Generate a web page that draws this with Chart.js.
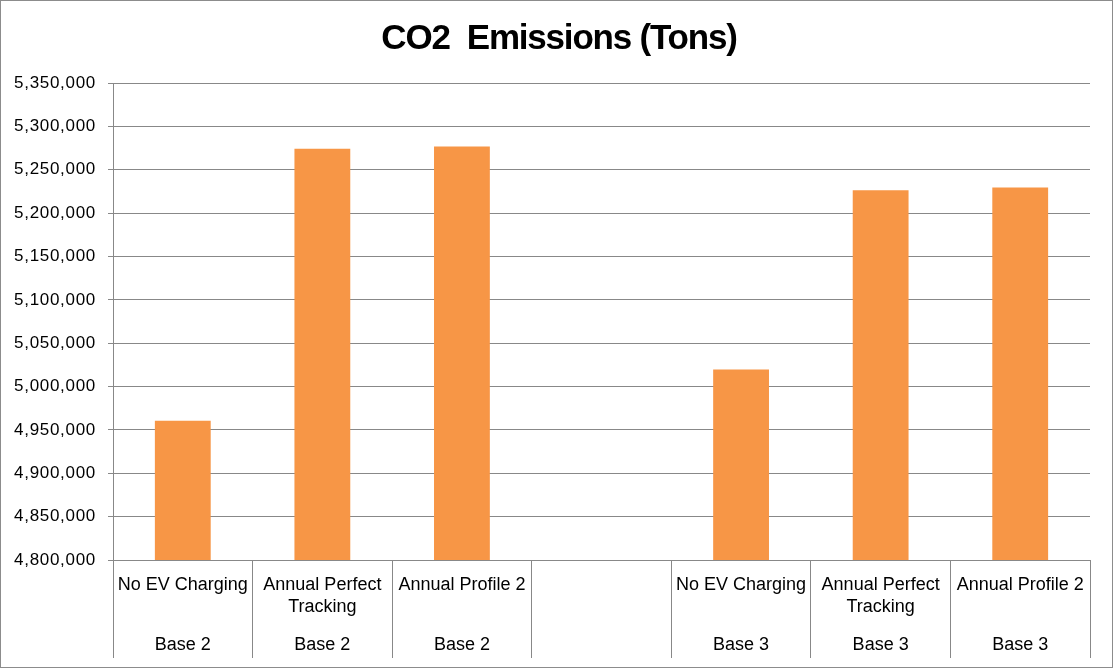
<!DOCTYPE html>
<html>
<head>
<meta charset="utf-8">
<script src="https://cdn.jsdelivr.net/npm/chart.js@4/dist/chart.umd.min.js"></script>
<style>
  html, body { margin: 0; padding: 0; background: #fff; }
  #frame {
    position: absolute; left: 0; top: 0;
    width: 1113px; height: 668px;
    box-sizing: border-box;
    border: 1px solid #8c8c8c;
    background: #fff;
  }
  canvas { display: block; }
</style>
</head>
<body>
<div id="frame"><canvas id="chart" width="1111" height="666"></canvas></div>
<script>
// Scenario names (first label row) and case groups (second label row)
const scenarios = [
  'No EV Charging',
  ['Annual Perfect', 'Tracking'],
  'Annual Profile 2',
  '',
  'No EV Charging',
  ['Annual Perfect', 'Tracking'],
  'Annual Profile 2'
];
const groups = ['Base 2', 'Base 2', 'Base 2', '', 'Base 3', 'Base 3', 'Base 3'];

// CO2 emissions in tons; the empty slot separates the two cases
const emissions = [4960700, 5274200, 5276900, null, 5019600, 5226200, 5229600];

// Value axis range
const yMin = 4800000;
const yMax = 5350000;
const yStep = 50000;

const FONT = '"Liberation Sans", Arial, Helvetica, sans-serif';
const GRID = '#888888';

// Draws a text layer with a given letter spacing
function withSpacing(obj, method, spacing) {
  if (!obj || obj['__spaced_' + method]) return;
  const orig = obj[method].bind(obj);
  obj[method] = function (...args) {
    const ctx = obj.ctx;
    const prev = ctx.letterSpacing;
    ctx.letterSpacing = spacing;
    orig(...args);
    ctx.letterSpacing = prev;
  };
  obj['__spaced_' + method] = true;
}

const spacingPlugin = {
  id: 'letterSpacing',
  afterLayout(chart) {
    withSpacing(chart.titleBlock, 'draw', '-1.2px');
    withSpacing(chart.scales.y, 'drawLabels', '0.7px');
  }
};

new Chart(document.getElementById('chart'), {
  type: 'bar',
  data: {
    labels: scenarios,
    datasets: [{
      data: emissions,
      backgroundColor: '#F79646',
      borderWidth: 0,
      categoryPercentage: 1.0,
      barPercentage: 0.4,
      yAxisID: 'y'
    }]
  },
  plugins: [spacingPlugin],
  options: {
    responsive: false,
    animation: false,
    devicePixelRatio: 1,
    layout: { padding: { left: 5, right: 0, top: 0, bottom: 0 } },
    plugins: {
      legend: { display: false },
      tooltip: { enabled: false },
      title: {
        display: true,
        text: 'CO2  Emissions (Tons)',
        color: '#000',
        font: { family: FONT, size: 35, weight: 'bold', lineHeight: 1.2 },
        padding: { top: 17.5, bottom: 22.5 }
      }
    },
    scales: {
      x: {
        type: 'category',
        position: 'bottom',
        offset: true,
        grid: {
          offset: true,
          drawOnChartArea: false,
          drawTicks: true,
          tickLength: 62,
          color: GRID
        },
        border: { display: true, color: GRID },
        ticks: {
          color: '#000',
          font: { family: FONT, size: 18, lineHeight: '22px' },
          padding: -48,
          maxRotation: 0,
          minRotation: 0,
          autoSkip: false
        },
        afterFit: (s) => { s.height = 62; }
      },
      x2: {
        type: 'category',
        position: 'bottom',
        labels: groups,
        offset: true,
        grid: {
          offset: true,
          drawOnChartArea: false,
          drawTicks: true,
          tickLength: 36,
          color: GRID
        },
        border: { display: false },
        ticks: {
          color: '#000',
          font: { family: FONT, size: 18, lineHeight: '22px' },
          padding: -24,
          maxRotation: 0,
          minRotation: 0,
          autoSkip: false
        },
        afterFit: (s) => { s.height = 45; }
      },
      y: {
        min: yMin,
        max: yMax,
        grid: {
          color: GRID,
          drawTicks: true,
          tickLength: 5
        },
        border: { display: true, color: GRID },
        ticks: {
          stepSize: yStep,
          color: '#000',
          font: { family: FONT, size: 17 },
          padding: 12,
          callback: (v) => Number(v).toLocaleString('en-US')
        },
        afterFit: (s) => { s.width = 107; }
      },
      // Blank strip on the right side of the plot area
      yRight: {
        position: 'right',
        min: yMin,
        max: yMax,
        grid: { display: false },
        border: { display: false },
        ticks: { display: false },
        afterFit: (s) => { s.width = 22; }
      }
    }
  }
});
</script>
</body>
</html>
